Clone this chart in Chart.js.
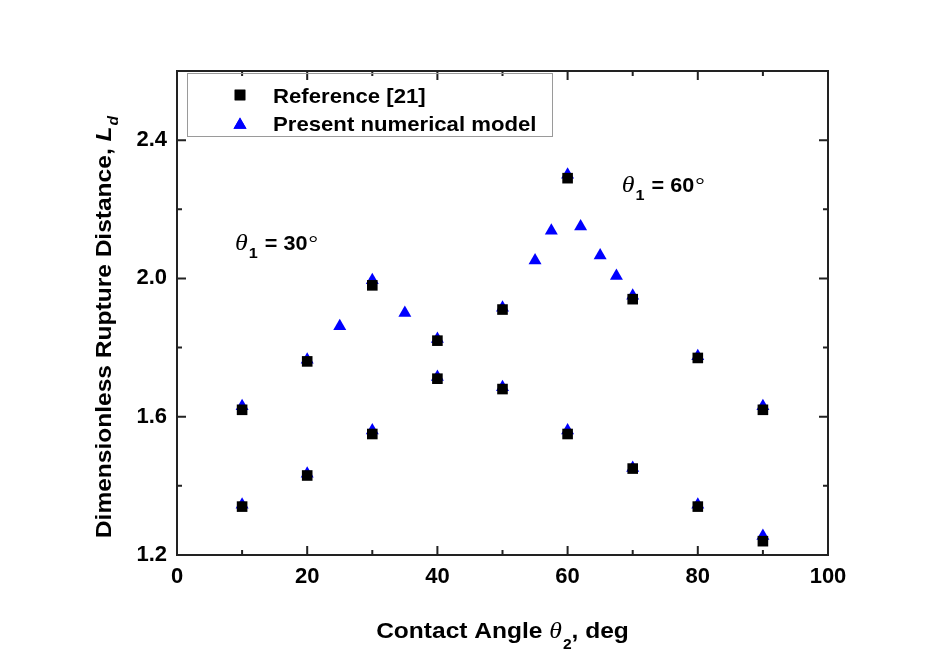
<!DOCTYPE html>
<html><head><meta charset="utf-8">
<script src="https://cdn.jsdelivr.net/npm/chart.js@4.4.1/dist/chart.umd.min.js"></script>
<style>html,body{margin:0;padding:0;background:#fff;}canvas{display:block;}</style>
</head><body>
<canvas id="c" width="947" height="662"></canvas>
<script>
// ---- data ----
const seriesNames = ['Reference [21]', 'Present numerical model'];
const refX = [10,10,20,20,30,30,40,40,50,50,60,60,70,70,80,80,90,90];
const refY = [1.62,1.34,1.76,1.43,1.98,1.55,1.82,1.71,1.91,1.68,2.29,1.55,1.94,1.45,1.77,1.34,1.62,1.24];
const modelX = [10,10,20,20,25,30,30,35,40,40,50,50,55,57.5,60,60,62,65,67.5,70,70,80,80,90,90];
const modelY = [1.63,1.345,1.765,1.435,1.862,1.995,1.56,1.90,1.825,1.715,1.915,1.685,2.052,2.138,2.30,1.56,2.15,2.066,2.007,1.95,1.452,1.775,1.345,1.63,1.255];
const xTickLabels = [0,20,40,60,80,100];
const yTickLabels = [1.2,1.6,2.0,2.4];
const annotations = [
  {sub:'1', text:' = 30', x:8.9, y:2.081},
  {sub:'1', text:' = 60', x:68.3, y:2.251}
];

const SANS = '"Liberation Sans", Arial, sans-serif';
const SERIF = '"Liberation Serif", "Times New Roman", serif';
const SX = 1.115;

function drawRich(ctx, segs, x, y, sx, center) {
  ctx.save();
  let w = 0;
  segs.forEach(s => { ctx.font = s.font; w += ctx.measureText(s.text).width + (s.gap || 0); });
  ctx.translate(center ? x - w * sx / 2 : x, y);
  ctx.scale(sx, 1);
  let cx = 0;
  ctx.textBaseline = 'alphabetic';
  ctx.textAlign = 'left';
  segs.forEach(s => {
    ctx.font = s.font;
    ctx.fillText(s.text, cx, s.dy || 0);
    cx += ctx.measureText(s.text).width + (s.gap || 0);
  });
  ctx.restore();
}

function isLabeled(list, v) { return list.some(t => Math.abs(t - v) < 1e-6); }

function drawMarker(ctx, style, r, x, y, color) {
  ctx.save();
  ctx.fillStyle = color;
  if (Chart.helpers && Chart.helpers.drawPoint) {
    Chart.helpers.drawPoint(ctx, {pointStyle: style, radius: r, borderWidth: 0, rotation: 0}, x, y);
    ctx.fill();
  } else {
    ctx.beginPath();
    if (style === 'rect') { const s = r * Math.SQRT1_2; ctx.rect(x - s, y - s, 2 * s, 2 * s); }
    else { ctx.moveTo(x, y - r); ctx.lineTo(x + r * 0.866, y + r / 2); ctx.lineTo(x - r * 0.866, y + r / 2); ctx.closePath(); }
    ctx.fill();
  }
  ctx.restore();
}

const decorPlugin = {
  id: 'decor',
  afterDraw(chart) {
    const {ctx, chartArea: a, scales: {x, y}} = chart;
    ctx.save();
    // frame
    ctx.strokeStyle = '#222';
    ctx.lineWidth = 2;
    ctx.strokeRect(a.left, a.top, a.right - a.left, a.bottom - a.top);
    // inward ticks on all sides
    ctx.beginPath();
    x.ticks.forEach(t => {
      const px = x.getPixelForValue(t.value);
      const len = isLabeled(xTickLabels, t.value) ? 9 : 5;
      ctx.moveTo(px, a.bottom); ctx.lineTo(px, a.bottom - len);
      ctx.moveTo(px, a.top); ctx.lineTo(px, a.top + len);
    });
    y.ticks.forEach(t => {
      const py = y.getPixelForValue(t.value);
      const len = isLabeled(yTickLabels, t.value) ? 9 : 5;
      ctx.moveTo(a.left, py); ctx.lineTo(a.left + len, py);
      ctx.moveTo(a.right, py); ctx.lineTo(a.right - len, py);
    });
    ctx.stroke();

    ctx.fillStyle = '#000';
    // x axis title
    drawRich(ctx, [
      {text: 'Contact Angle ', font: 'bold 22px ' + SANS},
      {text: '\u03b8', font: 'italic 23px ' + SERIF, gap: 1},
      {text: '2', font: 'bold 14px ' + SANS, dy: 11},
      {text: ', deg', font: 'bold 22px ' + SANS}
    ], (a.left + a.right) / 2, a.bottom + 83, SX, true);

    // y axis title (rotated)
    ctx.save();
    ctx.translate(a.left - 66, (a.top + a.bottom) / 2 + 14);
    ctx.rotate(-Math.PI / 2);
    drawRich(ctx, [
      {text: 'Dimensionless Rupture Distance, ', font: 'bold 22px ' + SANS},
      {text: 'L', font: 'italic bold 22px ' + SANS, gap: 1},
      {text: 'd', font: 'italic bold 14px ' + SANS, dy: 7}
    ], 0, 0, SX, true);
    ctx.restore();

    // annotations
    annotations.forEach(an => {
      drawRich(ctx, [
        {text: '\u03b8', font: 'italic 24px ' + SERIF, gap: 1},
        {text: an.sub, font: 'bold 15px ' + SANS, dy: 8, gap: 1},
        {text: an.text, font: 'bold 20px ' + SANS, gap: 1},
        {text: '\u00b0', font: '22px ' + SERIF}
      ], x.getPixelForValue(an.x), y.getPixelForValue(an.y), 1.08, false);
    });

    // legend
    const lx = a.left + 10, ly = a.top + 2, lw = 365, lh = 63;
    ctx.strokeStyle = '#9a9a9a';
    ctx.lineWidth = 1;
    ctx.strokeRect(lx + 0.5, ly + 0.5, lw, lh);
    const ds = chart.data.datasets;
    const rows = [a.top + 24, a.top + 52];
    ds.forEach((d, i) => {
      const cy = rows[i];
      drawMarker(ctx, d.pointStyle, d.pointRadius, a.left + 63, cy + (d.pointStyle === 'triangle' ? 1.9 : 0), d.backgroundColor);
      ctx.fillStyle = '#000';
      drawRich(ctx, [{text: d.label, font: 'bold 21px ' + SANS}], a.left + 96, cy + 7.5, 1.055, false);
    });
    ctx.restore();
  }
};

new Chart(document.getElementById('c'), {
  type: 'scatter',
  data: {
    datasets: [
      {
        label: seriesNames[0],
        data: refX.map((v, i) => ({x: v, y: refY[i]})),
        pointStyle: 'rect', pointRadius: 7.5, pointHoverRadius: 7.5,
        backgroundColor: '#000000', borderColor: '#000000', borderWidth: 0
      },
      {
        label: seriesNames[1],
        data: modelX.map((v, i) => ({x: v, y: modelY[i]})),
        pointStyle: 'triangle', pointRadius: 7.5, pointHoverRadius: 7.5,
        backgroundColor: '#0000ff', borderColor: '#0000ff', borderWidth: 0
      }
    ]
  },
  options: {
    responsive: false,
    animation: false,
    devicePixelRatio: 1,
    layout: {padding: {top: 71, right: 119, left: 0, bottom: 0}},
    plugins: {legend: {display: false}, tooltip: {enabled: false}},
    scales: {
      x: {
        type: 'linear', min: 0, max: 100,
        afterFit(s) { s.height = 107; },
        grid: {display: false, drawTicks: false},
        border: {display: false},
        ticks: {
          stepSize: 10, padding: 9, autoSkip: false, maxRotation: 0, color: '#000',
          font: {family: SANS, size: 22, weight: 'bold'},
          callback: v => isLabeled(xTickLabels, v) ? String(Math.round(v)) : ''
        }
      },
      y: {
        type: 'linear', min: 1.2, max: 2.6,
        afterFit(s) { s.width = 177; },
        grid: {display: false, drawTicks: false},
        border: {display: false},
        ticks: {
          stepSize: 0.2, padding: 10, autoSkip: false, color: '#000',
          font: {family: SANS, size: 22, weight: 'bold'},
          callback: v => isLabeled(yTickLabels, v) ? v.toFixed(1) : ''
        }
      }
    }
  },
  plugins: [decorPlugin]
});
</script>
</body></html>
